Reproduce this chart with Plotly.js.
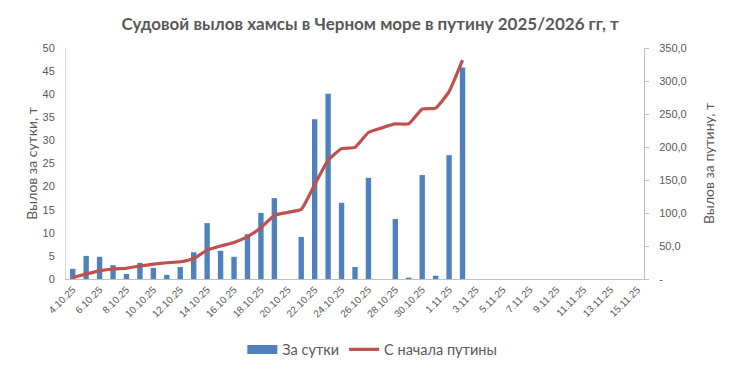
<!DOCTYPE html>
<html>
<head>
<meta charset="utf-8">
<script src="https://cdn.plot.ly/plotly-3.0.1.min.js"></script>
<style>html,body{margin:0;padding:0;background:#fff;}#chart{width:733px;height:371px;}</style>
</head>
<body>
<div id="chart"></div>
<script>
const dates = ["4.10.25","5.10.25","6.10.25","7.10.25","8.10.25","9.10.25","10.10.25","11.10.25","12.10.25","13.10.25",
  "14.10.25","15.10.25","16.10.25","17.10.25","18.10.25","19.10.25","20.10.25","21.10.25","22.10.25","23.10.25",
  "24.10.25","25.10.25","26.10.25","27.10.25","28.10.25","29.10.25","30.10.25","31.10.25","1.11.25","2.11.25",
  "3.11.25","4.11.25","5.11.25","6.11.25","7.11.25","8.11.25","9.11.25","10.11.25","11.11.25","12.11.25",
  "13.11.25","14.11.25","15.11.25"];
const daily = [2.2,5.0,4.8,3.0,1.1,3.5,2.4,0.9,2.6,5.8,
  12.1,6.1,4.8,9.7,14.3,17.5,null,9.1,34.6,40.1,
  16.5,2.6,21.9,null,13.0,0.3,22.5,0.7,26.8,45.8];
const cumulative = [2.2,7.5,12.3,15.2,16.3,19.7,22.5,24.6,26.2,31.2,
  43.8,50.0,55.2,64.2,77.5,96.5,101.0,105.5,143.0,180.0,
  197.5,199.5,222.0,229.0,235.0,235.0,257.5,259.0,284.0,331.5];
const tickDates = dates.filter((d, i) => i % 2 === 0);
const leftTicks = [0,5,10,15,20,25,30,35,40,45,50];
const rightTicks = [0,50,100,150,200,250,300,350];
const rightTickText = ["-","50,0","100,0","150,0","200,0","250,0","300,0","350,0"];

const txt = '#595959';
const lf = 'Lato, "Open Sans", sans-serif';
const data = [
  {type:'bar', name:'За сутки', x:dates.slice(0, daily.length), y:daily, marker:{color:'#4f81bd'}, yaxis:'y', showlegend:false},
  {type:'scatter', mode:'lines', name:'За сутки', x:[dates[0]], y:[null], line:{color:'#4f81bd', width:9}, yaxis:'y', showlegend:true},
  {type:'scatter', mode:'lines', name:'С начала путины', x:dates.slice(0, cumulative.length), y:cumulative,
   line:{color:'#c0504d', width:3.2, shape:'spline', smoothing:0.4}, yaxis:'y2'}
];
const layout = {
  width:733, height:371,
  margin:{l:66, r:89, t:48, b:92, autoexpand:false},
  paper_bgcolor:'#fff', plot_bgcolor:'#fff',
  font:{family:'"Liberation Sans", Arial, sans-serif', color:txt, size:11},
  title:{text:'<b>Судовой вылов хамсы в Черном море в путину 2025/2026 гг, т</b>', x:0.505, xanchor:'center', y:0.935, yanchor:'middle',
    font:{family:lf, size:17, color:txt}},
  bargap:0.6,
  showlegend:true,
  legend:{orientation:'h', x:0.53, xanchor:'center', yref:'container', y:0.058, yanchor:'middle',
    font:{family:lf, size:14.5, color:txt}, traceorder:'normal'},
  xaxis:{type:'category', categoryorder:'array', categoryarray:dates, range:[-0.5, dates.length-0.5],
    tickmode:'array', tickvals:tickDates, ticktext:tickDates, tickangle:-45,
    tickfont:{size:10, color:txt}, showline:true, linecolor:'#bfbfbf', linewidth:1, ticks:'', showgrid:false, zeroline:false},
  yaxis:{range:[0,50], tickmode:'array', tickvals:leftTicks, showgrid:false, zeroline:false,
    showline:true, linecolor:'#d9d9d9', linewidth:1, ticks:'', tickfont:{size:11, color:txt}, ticklabelstandoff:8,
    title:{text:'Вылов за сутки, т', font:{family:lf, size:14, color:txt}, standoff:1}},
  yaxis2:{range:[0,350], overlaying:'y', side:'right', tickmode:'array', tickvals:rightTicks, ticktext:rightTickText,
    showgrid:false, zeroline:false, showline:true, linecolor:'#bfbfbf', linewidth:1,
    ticks:'outside', ticklen:4, tickcolor:'#bfbfbf', tickfont:{size:11, color:txt}, ticklabelstandoff:8,
    title:{text:'Вылов за путину, т', font:{family:lf, size:14, color:txt}, standoff:18}}
};
Plotly.newPlot('chart', data, layout, {displayModeBar:false, staticPlot:true});
</script>
</body>
</html>
